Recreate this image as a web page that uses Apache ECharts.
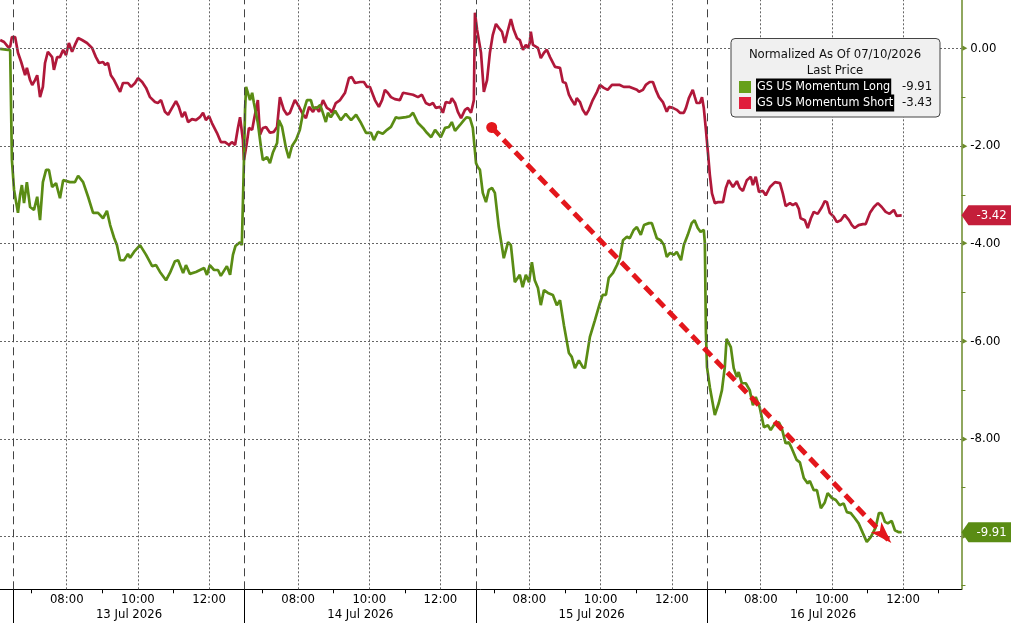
<!DOCTYPE html>
<html><head><meta charset="utf-8">
<script src="https://cdn.jsdelivr.net/npm/echarts@6/dist/echarts.min.js"></script>
<style>html,body{margin:0;padding:0;background:#fff}#c{width:1011px;height:623px}</style>
</head><body><div id="c"></div>
<script>
// x values are trading-session hours since 13 Jul 06:30 (each session 06:30-13:00 = 6.5 h)
const longSeries = [[-0.37,-0.01],[-0.15,-0.03],[-0.09,-0.03],[-0.04,-2.29],[0.02,-2.90],[0.13,-3.37],[0.19,-3.00],[0.24,-2.80],[0.30,-3.17],[0.38,-2.74],[0.47,-3.25],[0.58,-3.31],[0.67,-3.04],[0.75,-3.52],[0.83,-2.74],[0.92,-2.49],[1.00,-2.49],[1.09,-2.84],[1.20,-2.76],[1.31,-3.07],[1.40,-2.70],[1.59,-2.74],[1.73,-2.74],[1.82,-2.61],[1.96,-2.74],[2.10,-3.04],[2.24,-3.37],[2.38,-3.37],[2.52,-3.48],[2.63,-3.33],[2.72,-3.62],[2.83,-3.88],[2.91,-4.03],[3.00,-4.34],[3.11,-4.34],[3.22,-4.21],[3.28,-4.29],[3.39,-4.17],[3.56,-4.03],[3.73,-4.23],[3.90,-4.46],[4.01,-4.44],[4.12,-4.58],[4.29,-4.75],[4.40,-4.60],[4.54,-4.36],[4.63,-4.34],[4.77,-4.60],[4.85,-4.44],[4.96,-4.62],[5.13,-4.58],[5.36,-4.50],[5.44,-4.64],[5.52,-4.44],[5.64,-4.54],[5.75,-4.54],[5.83,-4.66],[6.00,-4.46],[6.09,-4.64],[6.17,-4.23],[6.24,-4.05],[6.37,-3.97],[6.42,-4.03],[6.48,-2.29],[6.51,-1.26],[6.54,-0.79],[6.58,-0.75],[6.65,-1.06],[6.71,-0.91],[6.76,-1.12],[6.87,-1.53],[6.96,-2.04],[7.01,-2.29],[7.13,-2.23],[7.21,-2.35],[7.29,-2.14],[7.41,-1.94],[7.46,-1.47],[7.55,-1.61],[7.66,-2.04],[7.74,-2.25],[7.83,-2.00],[7.94,-1.88],[8.05,-1.67],[8.14,-1.32],[8.25,-1.06],[8.36,-1.06],[8.42,-1.22],[8.53,-1.22],[8.62,-1.16],[8.67,-1.26],[8.78,-1.51],[8.84,-1.32],[8.92,-1.41],[9.04,-1.28],[9.20,-1.47],[9.34,-1.34],[9.49,-1.47],[9.63,-1.36],[9.77,-1.53],[9.91,-1.73],[10.05,-1.73],[10.13,-1.88],[10.24,-1.71],[10.38,-1.75],[10.50,-1.67],[10.61,-1.61],[10.75,-1.41],[10.83,-1.43],[11.03,-1.41],[11.14,-1.39],[11.23,-1.32],[11.37,-1.53],[11.51,-1.63],[11.62,-1.73],[11.74,-1.82],[11.85,-1.67],[12.01,-1.82],[12.13,-1.63],[12.24,-1.61],[12.32,-1.51],[12.41,-1.69],[12.55,-1.57],[12.66,-1.47],[12.74,-1.41],[12.83,-1.43],[12.91,-1.63],[13.00,-2.35],[13.05,-2.43],[13.11,-2.49],[13.19,-2.96],[13.28,-3.15],[13.36,-2.90],[13.45,-2.86],[13.53,-2.96],[13.64,-3.66],[13.78,-4.30],[13.90,-3.97],[13.98,-4.03],[14.09,-4.79],[14.23,-4.64],[14.31,-4.89],[14.40,-4.64],[14.49,-4.79],[14.57,-4.38],[14.65,-4.75],[14.74,-4.91],[14.82,-5.26],[14.91,-4.95],[15.02,-5.01],[15.16,-5.05],[15.27,-5.26],[15.36,-5.16],[15.47,-5.67],[15.61,-6.24],[15.69,-6.32],[15.78,-6.55],[15.89,-6.39],[16.00,-6.53],[16.06,-6.55],[16.20,-5.91],[16.34,-5.57],[16.48,-5.22],[16.56,-5.05],[16.65,-5.05],[16.73,-4.70],[16.85,-4.60],[16.96,-4.44],[17.04,-4.30],[17.13,-3.93],[17.24,-3.86],[17.32,-3.89],[17.43,-3.72],[17.52,-3.66],[17.63,-3.82],[17.72,-3.62],[17.86,-3.58],[17.94,-3.58],[18.08,-3.89],[18.19,-3.93],[18.28,-4.03],[18.36,-4.27],[18.45,-4.19],[18.56,-4.23],[18.64,-4.17],[18.76,-4.34],[18.84,-4.03],[18.95,-3.82],[19.06,-3.58],[19.14,-3.52],[19.23,-3.68],[19.31,-3.76],[19.40,-3.72],[19.43,-3.99],[19.46,-5.83],[19.49,-6.53],[19.57,-6.94],[19.71,-7.51],[19.82,-7.27],[19.91,-7.00],[19.99,-6.53],[20.04,-5.95],[20.16,-6.12],[20.24,-6.55],[20.33,-6.73],[20.38,-6.63],[20.47,-6.86],[20.58,-6.86],[20.69,-7.00],[20.78,-7.31],[20.86,-7.14],[20.97,-7.35],[21.09,-7.76],[21.20,-7.72],[21.28,-7.82],[21.40,-7.68],[21.51,-7.66],[21.59,-7.78],[21.70,-8.09],[21.79,-8.07],[21.87,-8.19],[22.01,-8.43],[22.10,-8.48],[22.21,-8.80],[22.32,-8.91],[22.38,-8.86],[22.49,-9.05],[22.58,-9.05],[22.69,-9.42],[22.80,-9.30],[22.88,-9.11],[23.00,-9.21],[23.11,-9.25],[23.22,-9.36],[23.33,-9.32],[23.42,-9.50],[23.53,-9.52],[23.64,-9.62],[23.75,-9.73],[23.87,-9.93],[23.98,-10.11],[24.09,-10.01],[24.15,-9.93],[24.23,-9.81],[24.32,-9.52],[24.40,-9.52],[24.49,-9.70],[24.57,-9.73],[24.68,-9.68],[24.77,-9.87],[24.88,-9.91],[24.96,-9.91]];

const shortSeries = [[-0.37,0.17],[-0.26,0.13],[-0.15,0.03],[-0.09,0.03],[-0.04,0.23],[0.05,0.23],[0.13,-0.09],[0.22,-0.28],[0.33,-0.55],[0.38,-0.40],[0.47,-0.65],[0.53,-0.75],[0.61,-0.65],[0.67,-0.55],[0.75,-1.00],[0.83,-0.79],[0.89,-0.30],[0.97,-0.07],[1.09,-0.18],[1.14,-0.44],[1.23,-0.18],[1.31,-0.18],[1.40,-0.03],[1.48,-0.14],[1.56,0.11],[1.65,-0.07],[1.73,0.07],[1.82,0.21],[1.93,0.17],[2.07,0.11],[2.21,0.01],[2.32,-0.18],[2.41,-0.30],[2.52,-0.28],[2.58,-0.34],[2.66,-0.30],[2.74,-0.55],[2.83,-0.65],[2.94,-0.81],[3.00,-0.89],[3.08,-0.71],[3.22,-0.71],[3.31,-0.79],[3.42,-0.71],[3.50,-0.61],[3.62,-0.69],[3.73,-0.81],[3.84,-1.00],[3.98,-1.10],[4.06,-1.12],[4.15,-1.06],[4.26,-1.30],[4.35,-1.36],[4.46,-1.22],[4.57,-1.08],[4.65,-1.20],[4.74,-1.41],[4.82,-1.30],[4.91,-1.51],[5.02,-1.45],[5.13,-1.47],[5.24,-1.41],[5.33,-1.32],[5.41,-1.47],[5.50,-1.39],[5.58,-1.53],[5.72,-1.73],[5.83,-1.92],[5.95,-1.92],[6.06,-1.98],[6.14,-1.92],[6.23,-1.98],[6.31,-1.63],[6.37,-1.41],[6.45,-1.88],[6.48,-2.29],[6.56,-1.94],[6.62,-1.63],[6.71,-1.67],[6.76,-1.47],[6.87,-1.06],[6.93,-1.77],[7.01,-1.63],[7.10,-1.61],[7.21,-1.73],[7.32,-1.71],[7.41,-1.61],[7.49,-1.00],[7.60,-1.26],[7.69,-1.36],[7.77,-1.32],[7.91,-1.06],[8.00,-1.16],[8.05,-1.20],[8.14,-1.36],[8.22,-1.43],[8.31,-1.20],[8.42,-1.30],[8.50,-1.20],[8.59,-1.30],[8.70,-1.06],[8.81,-1.22],[8.90,-1.26],[8.95,-1.32],[9.06,-1.12],[9.18,-1.06],[9.32,-0.91],[9.43,-0.61],[9.51,-0.59],[9.60,-0.71],[9.74,-0.69],[9.85,-0.69],[9.94,-0.79],[10.02,-0.79],[10.16,-1.06],[10.27,-1.20],[10.36,-1.06],[10.44,-0.85],[10.52,-0.91],[10.61,-1.00],[10.72,-1.04],[10.86,-1.06],[10.95,-0.91],[11.09,-0.93],[11.23,-0.95],[11.37,-1.00],[11.48,-0.95],[11.59,-1.12],[11.70,-1.16],[11.79,-1.12],[11.87,-1.22],[11.99,-1.20],[12.07,-1.32],[12.15,-1.10],[12.27,-1.12],[12.32,-1.02],[12.41,-1.12],[12.49,-1.30],[12.58,-1.43],[12.69,-1.26],[12.77,-1.22],[12.86,-1.32],[12.94,-1.06],[12.97,0.73],[13.03,0.38],[13.14,-0.09],[13.22,-0.89],[13.31,-0.65],[13.39,-0.09],[13.47,0.27],[13.56,0.50],[13.64,0.42],[13.73,0.34],[13.81,0.11],[13.90,0.38],[13.98,0.60],[14.06,0.38],[14.15,0.21],[14.23,0.17],[14.32,-0.03],[14.40,0.07],[14.46,0.01],[14.51,0.11],[14.54,0.34],[14.60,0.07],[14.65,0.03],[14.74,0.01],[14.82,-0.20],[14.91,-0.09],[14.99,-0.03],[15.08,-0.18],[15.22,-0.38],[15.36,-0.40],[15.44,-0.69],[15.52,-0.71],[15.61,-0.95],[15.69,-1.06],[15.78,-1.16],[15.83,-1.02],[15.92,-1.10],[16.00,-1.26],[16.09,-1.36],[16.17,-1.26],[16.28,-1.06],[16.40,-0.89],[16.48,-0.75],[16.59,-0.81],[16.70,-0.85],[16.82,-0.75],[16.93,-0.75],[17.04,-0.75],[17.15,-0.79],[17.32,-0.79],[17.52,-0.85],[17.58,-0.89],[17.69,-0.85],[17.77,-0.75],[17.88,-0.69],[17.97,-0.69],[18.05,-0.85],[18.14,-1.00],[18.25,-1.10],[18.36,-1.30],[18.42,-1.20],[18.53,-1.22],[18.64,-1.26],[18.73,-1.32],[18.84,-1.32],[18.90,-1.22],[18.98,-1.02],[19.09,-0.85],[19.15,-1.00],[19.20,-1.12],[19.29,-1.12],[19.35,-1.00],[19.40,-1.22],[19.46,-1.67],[19.51,-2.08],[19.57,-2.59],[19.63,-2.97],[19.71,-3.17],[19.80,-3.15],[19.94,-3.15],[20.02,-2.86],[20.10,-2.70],[20.22,-2.84],[20.33,-2.72],[20.41,-2.86],[20.50,-2.92],[20.61,-2.70],[20.72,-2.63],[20.78,-2.80],[20.86,-2.63],[20.95,-2.94],[21.06,-2.92],[21.14,-3.01],[21.26,-2.84],[21.40,-2.74],[21.54,-2.76],[21.62,-2.97],[21.70,-3.23],[21.82,-3.17],[21.90,-3.21],[21.99,-3.17],[22.07,-3.29],[22.12,-3.48],[22.24,-3.52],[22.32,-3.68],[22.41,-3.48],[22.49,-3.35],[22.60,-3.39],[22.72,-3.25],[22.80,-3.13],[22.86,-3.15],[22.94,-3.37],[23.05,-3.45],[23.14,-3.56],[23.25,-3.52],[23.36,-3.41],[23.48,-3.52],[23.56,-3.62],[23.64,-3.68],[23.75,-3.62],[23.87,-3.60],[23.95,-3.60],[24.07,-3.37],[24.18,-3.25],[24.29,-3.17],[24.40,-3.25],[24.51,-3.35],[24.62,-3.39],[24.74,-3.31],[24.82,-3.43],[24.96,-3.42]];

const dayLabels = ['13 Jul 2026','14 Jul 2026','15 Jul 2026','16 Jul 2026'];
const hourLabels = ['08:00','10:00','12:00'];
const hourLabelHours = [8,10,12];
const minorTickHours = [7,9,11];
const yLabelValues = [0,-2,-4,-6,-8,-10];
const yMinorValues = [-1,-3,-5,-7,-9,-11];
const seriesNames = ['GS US Momentum Long','GS US Momentum Short'];
const legendValues = ['-9.91','-3.43'];
const tagValues = [-9.91,-3.42];
const legendTitle = 'Normalized As Of 07/10/2026';
const legendSub = 'Last Price';
const arrowStart = [13.44,-1.62];
const arrowEnd = [24.67,-10.13];

const SESSION = 6.5, OPEN = 6.5;
const sessT = (d,h) => d*SESSION + (h-OPEN);
const FONT = "'DejaVu Sans Condensed','DejaVu Sans',sans-serif";
const GREEN = '#5a8c14', RED = '#b0183a', AXISG = '#6b8a2a';

const hourLabelVals = [], gridXVals = [], minorTicks = [], dayStarts = [], dayMids = [];
for (let d=0; d<dayLabels.length; d++) {
  hourLabelHours.forEach(h => { hourLabelVals.push(sessT(d,h)); gridXVals.push(sessT(d,h)); });
  minorTickHours.forEach(h => minorTicks.push(sessT(d,h)));
  dayStarts.push(sessT(d,OPEN));
  dayMids.push(sessT(d,OPEN+SESSION/2));
}
minorTicks.push(sessT(3,13));

function hourFmt(v){
  const d = Math.floor((v+1e-6)/SESSION);
  const h = Math.round(v - d*SESSION + OPEN);
  const i = hourLabelHours.indexOf(h);
  return i>=0 ? hourLabels[i] : '';
}
function dayFmt(v){ return dayLabels[Math.floor(v/SESSION)] || ''; }

const XMIN=-0.375, XMAX=26.64, YMIN=-11.08, YMAX=0.99;
const chart = echarts.init(document.getElementById('c'), null, {renderer:'canvas'});
const dotted = {color:'#666', width:1, type:[2,2]};
const option = {
  animation:false,
  grid:{left:0, right:49.3, top:0, bottom:33.7, containLabel:false},
  xAxis:[{
    type:'value', min:XMIN, max:XMAX, position:'bottom',
    axisLine:{show:true, onZero:false, lineStyle:{color:'#000', width:1}},
    splitLine:{show:false},
    axisTick:{show:true, customValues:minorTicks, length:4, lineStyle:{color:'#000'}},
    axisLabel:{customValues:hourLabelVals, formatter:hourFmt, margin:4, color:'#000', fontSize:13, fontFamily:FONT}
  },{
    type:'value', min:XMIN, max:XMAX, position:'bottom',
    axisLine:{show:false, onZero:false},
    splitLine:{show:false},
    axisTick:{show:true, customValues:dayStarts, length:34, lineStyle:{color:'#000'}},
    axisLabel:{customValues:dayMids, formatter:dayFmt, margin:19, color:'#000', fontSize:13, fontFamily:FONT}
  }],
  yAxis:{
    type:'value', position:'right', min:YMIN, max:YMAX,
    axisLine:{show:true, onZero:false, lineStyle:{color:AXISG, width:1.5}},
    splitLine:{show:false},
    axisTick:{show:true, customValues:yMinorValues, length:4, lineStyle:{color:AXISG}},
    axisLabel:{customValues:yLabelValues, margin:1, color:'#000', fontSize:13, fontFamily:FONT,
      formatter:v=>'{t|\u25B6}{n|'+(Math.abs(v)<1e-9?'0.00':v.toFixed(2))+'}',
      rich:{t:{color:AXISG, fontSize:7, padding:[0,3,0,0]}, n:{color:'#000', fontSize:13, fontFamily:FONT}}}
  },
  series:[
    { type:'line', name:'grid', data:[], silent:true, z:1,
      markLine:{silent:true, symbol:'none', label:{show:false}, animation:false,
        data: [
          ...yLabelValues.map(v=>({yAxis:v, lineStyle:dotted})),
          ...gridXVals.map(v=>({xAxis:v, lineStyle:dotted})),
          ...dayStarts.map(v=>({xAxis:v, lineStyle:{color:'#444', width:1, type:[8,5]}}))
        ]}
    },
    { type:'line', name:seriesNames[1], data:shortSeries, showSymbol:false, symbol:'none', z:3,
      lineStyle:{color:RED, width:2.7}, itemStyle:{color:RED} },
    { type:'line', name:seriesNames[0], data:longSeries, showSymbol:false, symbol:'none', z:4,
      lineStyle:{color:GREEN, width:2.7}, itemStyle:{color:GREEN} },
    { type:'line', name:'arrow', data:[], silent:true, z:6,
      markLine:{silent:true, animation:false, label:{show:false},
        symbol:['circle','arrow'], symbolSize:[11,22],
        lineStyle:{color:'#e3171c', width:5, type:[11,6]},
        data:[[{coord:arrowStart},{coord:arrowEnd}]]}
    }
  ]
};
chart.setOption(option);

const tagColors = [GREEN, '#c41e3a'];
const graphics = [];
// legend box
graphics.push({type:'rect', shape:{x:731, y:38.5, width:209, height:78.5, r:4}, style:{fill:'#f0f0f0', stroke:'#444', lineWidth:1}, z:20});
graphics.push({type:'text', x:835, y:55, style:{text:legendTitle, fill:'#111', font:'13px '+FONT, align:'center', verticalAlign:'middle'}, z:21});
graphics.push({type:'text', x:835, y:71, style:{text:legendSub, fill:'#111', font:'13px '+FONT, align:'center', verticalAlign:'middle'}, z:21});
const sq = ['#66a01a','#e01e3c'];
[87, 103].forEach((yy,i)=>{
  graphics.push({type:'rect', shape:{x:739, y:yy-6, width:12, height:12}, style:{fill:sq[i]}, z:21});
  graphics.push({type:'text', x:756, y:yy, style:{text:seriesNames[i], fill:'#fff', font:'12.5px '+FONT, align:'left', verticalAlign:'middle', backgroundColor:'#000', padding:[2,1,2,1]}, z:21});
  graphics.push({type:'text', x:902, y:yy, style:{text:legendValues[i], fill:'#111', font:'13px '+FONT, align:'left', verticalAlign:'middle'}, z:21});
});
// right-axis last value tags
const axX = chart.convertToPixel({xAxisIndex:0}, XMAX);
tagValues.forEach((v,i)=>{
  const y = chart.convertToPixel({yAxisIndex:0}, v);
  graphics.push({type:'polygon', shape:{points:[[axX,y],[axX+7,y-10],[1011,y-10],[1011,y+10],[axX+7,y+10]]}, style:{fill:tagColors[i]}, z:20});
  graphics.push({type:'text', x:axX+15, y:y, style:{text:v.toFixed(2), fill:'#fff', font:'13px '+FONT, align:'left', verticalAlign:'middle'}, z:21});
});
chart.setOption({graphic:graphics});
</script></body></html>
